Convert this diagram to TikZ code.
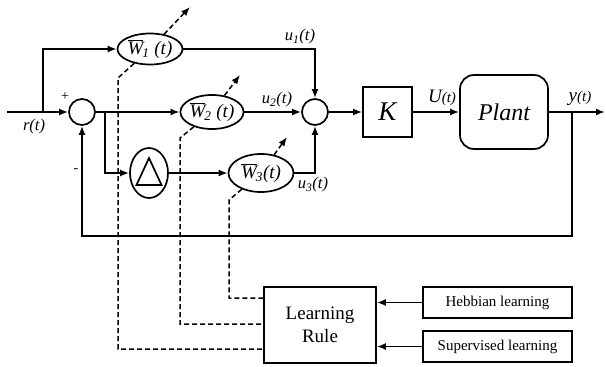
\documentclass[tikz,border=0pt]{standalone}
\usepackage{fontspec}
\setmainfont{Liberation Serif}
\usetikzlibrary{arrows.meta,shapes.geometric}
\tikzset{
  wire/.style={line width=1.7pt,-{Latex[length=9pt,width=7pt]}},
  dsh/.style={line width=1.5pt,dash pattern=on 5pt off 3pt},
  dsharrow/.style={dsh,-{Latex[length=9pt,width=7pt]}},
  wnode/.style={ellipse,draw,line width=1.7pt,inner sep=0pt,font=\fontsize{19}{20}\selectfont\itshape},
  sumnode/.style={circle,draw,line width=1.7pt,minimum size=26pt,inner sep=0pt},
  boxnode/.style={rectangle,draw,line width=1.7pt,inner sep=0pt},
  lbl/.style={font=\fontsize{16.5}{17}\selectfont\itshape,inner sep=0pt},
}
\newcommand{\Wbar}[1]{$\overline{\mbox{\itshape W}}$\kern-1pt\textsubscript{\itshape #1}}
\begin{document}
\begin{tikzpicture}[x=1pt,y=-1pt]
\useasboundingbox (0,0) rectangle (606,367);
% nodes
\node[sumnode] (s1) at (82,112) {};
\node[sumnode] (s2) at (315,112) {};
\node[wnode,minimum width=65pt,minimum height=31pt] (w1) at (150,49) {\Wbar{1}\ (t)};
\node[wnode,minimum width=63pt,minimum height=34pt] (w2) at (212,112) {\Wbar{2}\ (t)};
\node[wnode,minimum width=65pt,minimum height=38pt] (w3) at (261,173) {\Wbar{3}(t)};
\node[ellipse,draw,line width=1.7pt,minimum width=38pt,minimum height=50pt,inner sep=0pt] (tri) at (149,173) {};
\draw[line width=1.7pt,line join=miter] (tri.center) ++(-12.5,12) -- ++(25,0) -- ++(-12.5,-27) -- cycle;
\node[boxnode,minimum width=49pt,minimum height=50pt,font=\fontsize{27}{28}\selectfont\itshape] (k) at (387.5,112) {K};
\node[boxnode,rounded corners=14pt,minimum width=88pt,minimum height=74pt,font=\fontsize{24}{25}\selectfont\itshape] (plant) at (504,112) {Plant};
\node[boxnode,minimum width=112pt,minimum height=76pt,align=center,font=\fontsize{19}{23}\selectfont] (lr) at (320,325) {Learning\\Rule};
\node[boxnode,minimum width=149pt,minimum height=31pt,font=\fontsize{15}{16}\selectfont] (heb) at (497.5,302.5) {Hebbian learning};
\node[boxnode,minimum width=149pt,minimum height=31pt,font=\fontsize{15}{16}\selectfont] (sup) at (497.5,346.5) {Supervised learning};
% coordinates
\coordinate (in) at (7,112);
\coordinate (br1) at (43,112);
\coordinate (br2) at (105,112);
\coordinate (yb) at (572,112);
\coordinate (out) at (605,112);
\coordinate (fb) at (82,236);
\coordinate (a1) at (190,7);
\coordinate (a2) at (240,75);
\coordinate (a3) at (287,137);
\coordinate (d1) at (118,78);
\coordinate (d2) at (180,138);
\coordinate (d3) at (229,200);
% connectors
\draw[wire] (in) -- (s1);
\draw[wire] (br1) |- (w1);
\draw[wire] (w1) -| (s2);
\draw[wire] (s1) -- (w2);
\draw[wire] (br2) |- (tri);
\draw[wire] (tri) -- (w3);
\draw[wire] (w2) -- (s2);
\draw[wire] (w3) -| (s2);
\draw[wire] (s2) -- (k);
\draw[wire] (k) -- (plant);
\draw[wire] (plant) -- (out);
\draw[wire] (yb) |- (fb) -- (s1);
\draw[wire] (heb) -- (lr.east |- heb);
\draw[wire] (sup) -- (lr.east |- sup);
% adjustable arrows
\draw[dsharrow] (w1) -- (a1);
\draw[dsharrow] (w2) -- (a2);
\draw[dsharrow] (w3) -- (a3);
% learning lines
\draw[dsh] (w1) -- (d1) |- ([yshift=-24pt]lr.west);
\draw[dsh] (w2) -- (d2) |- ([yshift=1pt]lr.west);
\draw[dsh] (w3) -- (d3) |- ([yshift=27pt]lr.west);
% labels
\node[font=\fontsize{14}{15}\selectfont] at (65,97) {+};
\node[font=\fontsize{14}{15}\selectfont] at (76,171) {-};
\node[lbl] at (34,127) {r(t)};
\node[lbl] at (300,37) {u\textsubscript{1}(t)};
\node[lbl] at (277,100) {u\textsubscript{2}(t)};
\node[lbl] at (313,185) {u\textsubscript{3}(t)};
\node[lbl,font=\fontsize{19}{20}\selectfont\itshape] at (442,98) {U{\fontsize{15}{16}\selectfont(t)}};
\node[lbl,font=\fontsize{19}{20}\selectfont\itshape] at (580,98) {y{\fontsize{15}{16}\selectfont(t)}};
\end{tikzpicture}
\end{document}
